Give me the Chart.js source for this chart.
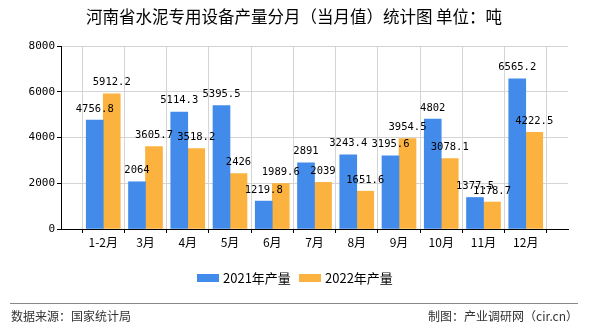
<!DOCTYPE html>
<html>
<head>
<meta charset="utf-8">
<script src="https://cdn.jsdelivr.net/npm/chart.js@4"></script>
<style>
  html, body { margin: 0; padding: 0; background: #fff; }
  #wrap { width: 590px; height: 330px; }
</style>
</head>
<body>
<div id="wrap"><canvas id="myChart" width="590" height="330"></canvas></div>
<script>
var months = ["1-2月", "3月", "4月", "5月", "6月", "7月", "8月", "9月", "10月", "11月", "12月"];
var output2021 = [4756.8, 2064, 5114.3, 5395.5, 1219.8, 2891, 3243.4, 3195.6, 4802, 1377.5, 6565.2];
var output2022 = [5912.2, 3605.7, 3518.2, 2426, 1989.6, 2039, 1651.6, 3954.5, 3078.1, 1178.7, 4222.5];
var yTicks = [0, 2000, 4000, 6000, 8000];

var title = "河南省水泥专用设备产量分月（当月值）统计图 单位：吨";
var cjk = '"Noto Sans CJK SC", sans-serif';
var mono = '"DejaVu Sans Mono", monospace';

// empty slots at both ends give the wide margins of the reference
var labels = [""].concat(months, [""]);
var d2021 = [null].concat(output2021, [null]);
var d2022 = [null].concat(output2022, [null]);

var extras = {
  id: "extras",
  afterDatasetsDraw(chart) {
    var c = chart.ctx;
    c.save();
    // value labels
    c.font = "10.5px " + mono;
    c.fillStyle = "#000";
    c.textAlign = "center";
    c.textBaseline = "bottom";
    chart.data.datasets.forEach((ds, i) => {
      chart.getDatasetMeta(i).data.forEach((bar, j) => {
        if (ds.data[j] == null) return;
        c.fillText(String(ds.data[j]), bar.x, bar.y - 6);
      });
    });
    c.restore();
  },
  afterDraw(chart) {
    var c = chart.ctx;
    c.save();
    // title
    c.fillStyle = "#000";
    c.font = "16.5px " + cjk;
    c.textAlign = "center";
    c.textBaseline = "middle";
    c.fillText(title, 294, 17);

    // legend
    var items = [["2021年产量", "#428bea", 197], ["2022年产量", "#fbb23f", 299]];
    c.font = "13px " + cjk;
    c.textAlign = "left";
    items.forEach(it => {
      c.fillStyle = it[1];
      c.fillRect(it[2], 274, 22, 8);
      c.fillStyle = "#000";
      c.fillText(it[0], it[2] + 26, 278);
    });

    // footer
    c.strokeStyle = "#888";
    c.lineWidth = 1;
    c.beginPath();
    c.moveTo(10, 303.5);
    c.lineTo(578, 303.5);
    c.stroke();
    c.fillStyle = "#333";
    c.font = "12px " + cjk;
    c.fillText("数据来源：国家统计局", 11, 316);
    c.textAlign = "right";
    c.fillText("制图：产业调研网（cir.cn）", 578, 316);
    c.restore();
  }
};

var ctx = document.getElementById("myChart");

new Chart(ctx, {
  type: "bar",
  data: {
    labels: labels,
    datasets: [
      { label: "2021年产量", data: d2021, backgroundColor: "#428bea", barThickness: 17 },
      { label: "2022年产量", data: d2022, backgroundColor: "#fbb23f", barThickness: 17 },
    ],
  },
  options: {
    responsive: false,
    animation: false,
    layout: { padding: { top: 46, right: 22, left: 0, bottom: 0 } },
    plugins: {
      legend: { display: false },
      title: { display: false },
      tooltip: { enabled: false },
    },
    scales: {
      x: {
        offset: false,
        grid: { color: "#d4d4d4", tickLength: 4, tickColor: "#000" },
        border: { color: "#000" },
        ticks: { color: "#000", font: { family: cjk, size: 12 }, padding: 2, maxRotation: 0, autoSkip: false },
        afterFit: s => { s.height = 101; },
      },
      y: {
        min: 0,
        max: 8000,
        afterBuildTicks: s => { s.ticks = yTicks.map(v => ({ value: v })); },
        grid: { color: "#d4d4d4", tickLength: 4, tickColor: "#000" },
        border: { color: "#000" },
        ticks: { color: "#000", font: { family: mono, size: 11 }, padding: 2, callback: v => String(v) },
        afterFit: s => { s.width = 61; },
      },
    },
  },
  plugins: [extras],
});
</script>
</body>
</html>
